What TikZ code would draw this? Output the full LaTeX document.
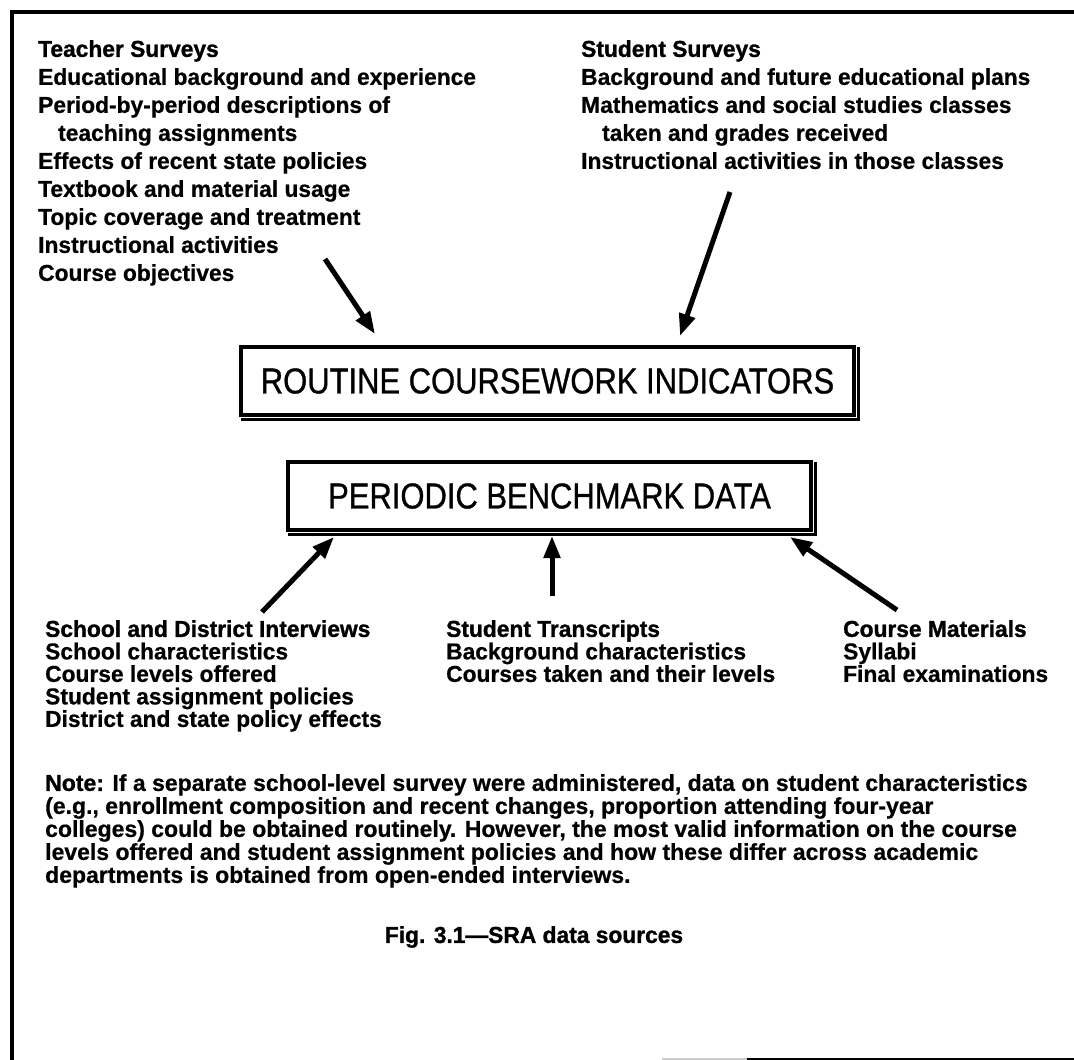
\documentclass[tikz,border=0pt]{standalone}
\usepackage{fontspec}
\setmainfont{Liberation Sans}
\newfontfamily\itemfont[FakeStretch=0.99,FakeBold=0.6]{Liberation Sans Bold}
\newfontfamily\headfont[FakeStretch=0.99,FakeBold=1.2]{Liberation Sans Bold}
\newfontfamily\notefont[FakeStretch=1.0,FakeBold=0.6]{Liberation Sans Bold}
\newfontfamily\noteheadfont[FakeStretch=1.0,FakeBold=1.2]{Liberation Sans Bold}
\newfontfamily\boxfont[FakeStretch=0.86,FakeBold=0.8]{Liberation Sans}
\usetikzlibrary{arrows.meta,calc}
\begin{document}
\begin{tikzpicture}[x=1pt,y=-1pt]
\useasboundingbox[fill=white] (0,0) rectangle (1074,1060);
\tikzset{
  lst/.style={anchor=north west, inner sep=0pt, align=left, font=\itemfont\fontsize{23}{28}\selectfont},
  lstb/.style={anchor=north west, inner sep=0pt, align=left, font=\itemfont\fontsize{23}{22.5}\selectfont},
  note/.style={anchor=north west, inner sep=0pt, align=left, font=\notefont\fontsize{23}{23}\selectfont},
  bigbox/.style={draw, line width=3.2pt, inner sep=0pt, font=\boxfont\fontsize{36}{40}\selectfont},
  shadow/.style={line width=3.5pt},
  arr/.style={line width=5pt, -{Triangle[length=22pt,width=16pt]}},
  frame/.style={line width=4.5pt}
}
% frame
\draw[frame] (1074,12) -- (12,12) -- (12,1060);
\draw[line width=1.5pt, gray!40] (662,1059) -- (747,1059);
\draw[line width=1.5pt] (747,1059) -- (1074,1059);

% top text blocks
\node[lst] (teacher) at (38,40) {{\headfont Teacher Surveys}\\
Educational background and experience\\
Period-by-period descriptions of\\
\hspace*{20pt}teaching assignments\\
Effects of recent state policies\\
Textbook and material usage\\
Topic coverage and treatment\\
Instructional activities\\
Course objectives};

\node[lst] (student) at (581,40) {{\headfont Student Surveys}\\
Background and future educational plans\\
Mathematics and social studies classes\\
\hspace*{21pt}taken and grades received\\
Instructional activities in those classes};

% boxes
\node[bigbox, minimum width=613pt, minimum height=68pt] (rci) at (547.5,381) {ROUTINE COURSEWORK INDICATORS};
\draw[shadow] ($(rci.north east)+(3,2)$) -- ($(rci.south east)+(3,3)$) -- ($(rci.south west)+(2,3)$);
\node[bigbox, minimum width=523pt, minimum height=68pt] (pbd) at (549.5,496) {PERIODIC BENCHMARK DATA};
\draw[shadow] ($(pbd.north east)+(3,2)$) -- ($(pbd.south east)+(3,3)$) -- ($(pbd.south west)+(2,3)$);

% bottom text blocks
\node[lstb] (school) at (45,620) {{\headfont School and District Interviews}\\
School characteristics\\
Course levels offered\\
Student assignment policies\\
District and state policy effects};

\node[lstb] (trans) at (446,620) {{\headfont Student Transcripts}\\
Background characteristics\\
Courses taken and their levels};

\node[lstb] (mat) at (843,620) {{\headfont Course Materials}\\
Syllabi\\
Final examinations};

\node[note] (notetext) at (45,774) {{\noteheadfont Note:} If a separate school-level survey were administered, data on student characteristics\\
(e.g., enrollment composition and recent changes, proportion attending four-year\\
colleges) could be obtained routinely. However, the most valid information on the course\\
levels offered and student assignment policies and how these differ across academic\\
departments is obtained from open-ended interviews.};

\node[inner sep=0pt, font=\headfont\fontsize{23}{25}\selectfont] (caption) at (534,937) {Fig. 3.1\textemdash SRA data sources};

% arrows
\coordinate (tA) at (325,259);
\coordinate (hA) at (375,334);
\coordinate (tS) at (730,192);
\coordinate (hS) at (680,336);
\coordinate (tL) at (262,612);
\coordinate (hL) at (334,537);
\coordinate (tM) at (552,596);
\coordinate (hM) at (552,536);
\coordinate (tR) at (897,610);
\coordinate (hR) at (790,537);
\draw[arr] (tA) -- (hA);
\draw[arr] (tS) -- (hS);
\draw[arr] (tL) -- (hL);
\draw[arr] (tM) -- (hM);
\draw[arr] (tR) -- (hR);
\end{tikzpicture}
\end{document}
